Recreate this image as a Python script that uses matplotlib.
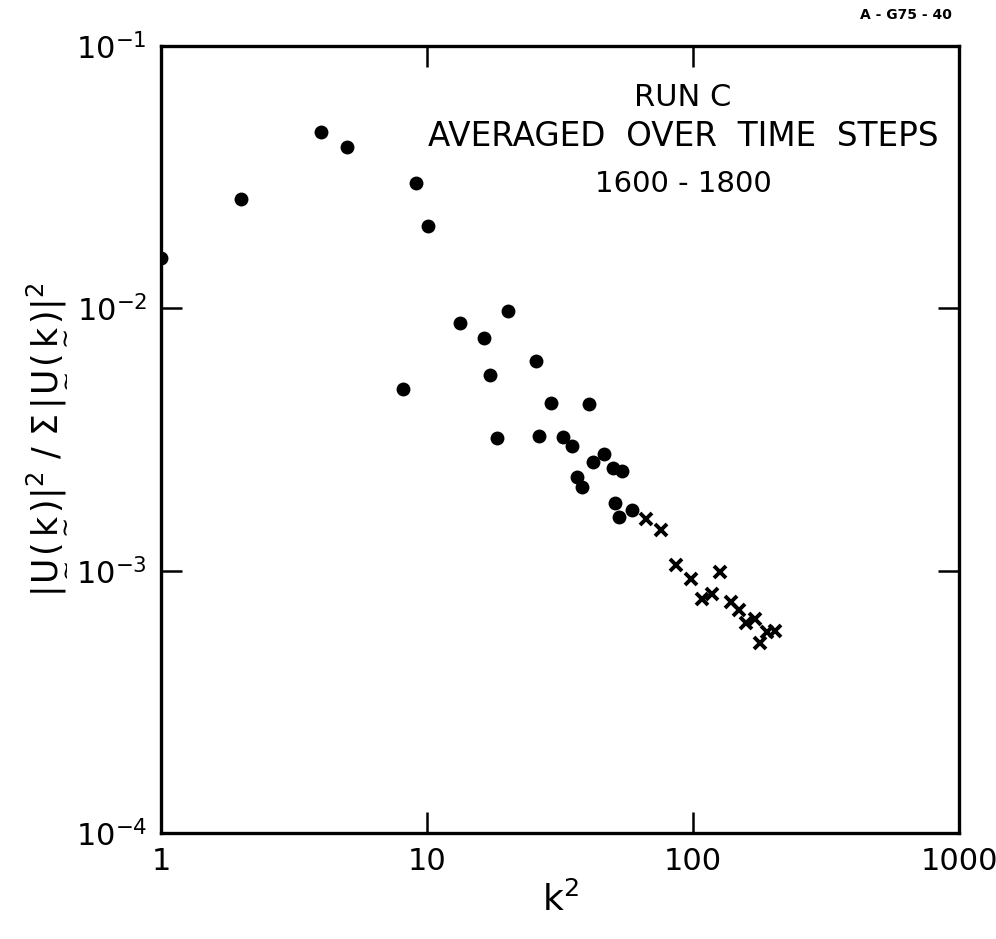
import matplotlib
matplotlib.use("Agg")
import matplotlib.pyplot as plt
from matplotlib.ticker import FixedLocator, NullLocator

# ---- data ----
k2_dots = [1.0, 2.0, 4.0, 5.0, 9.1, 10.1, 8.1, 13.3, 20.2, 16.4, 17.3, 18.4,
           25.7, 29.3, 26.4, 40.8, 32.4, 35.0, 46.4, 42.0, 50.2, 54.2, 36.6,
           38.2, 50.8, 58.9, 52.7]
val_dots = [0.0155, 0.0261, 0.0469, 0.0411, 0.0300, 0.0206, 0.00492, 0.00877,
            0.0098, 0.00773, 0.00557, 0.00321, 0.00631, 0.00436, 0.00327,
            0.0043, 0.00322, 0.00299, 0.00279, 0.00259, 0.00247, 0.00240,
            0.00227, 0.00209, 0.00181, 0.00170, 0.00160]
k2_cross = [66.3, 75.8, 86.5, 98.0, 126.4, 107.9, 118.3, 138.6, 148.9, 158.2,
            170.6, 178.6, 190.2, 203.4]
val_cross = [0.00157, 0.00143, 0.00105, 0.000926, 0.000991, 0.000783,
             0.000814, 0.000759, 0.000707, 0.000630, 0.000652, 0.000531,
             0.000585, 0.000590]

x_ticks = [1, 10, 100, 1000]
x_ticklabels = ["1", "10", "100", "1000"]
y_ticks = [1e-4, 1e-3, 1e-2, 1e-1]
y_exponents = ["-4", "-3", "-2", "-1"]

annotation_lines = ["RUN C", "AVERAGED  OVER  TIME  STEPS", "1600 - 1800"]
figure_id = "A - G75 - 40"

plt.rcParams['font.family'] = ['DejaVu Sans']
plt.rcParams['mathtext.fontset'] = 'dejavusans'

fig = plt.figure(figsize=(9.96, 9.39), dpi=100)
ax = fig.add_axes([161/996, 1 - 833/939, (959 - 161)/996, (833 - 46)/939])
ax.set_xscale('log')
ax.set_yscale('log')
ax.set_xlim(1, 1000)
ax.set_ylim(1e-4, 1e-1)

ax.plot(k2_dots, val_dots, linestyle='none', marker='o', markersize=10,
        color='black', markeredgewidth=0)
ax.plot(k2_cross, val_cross, linestyle='none', marker='x', markersize=8.5,
        color='black', markeredgewidth=2.8)

for s in ax.spines.values():
    s.set_linewidth(2.4)

ax.xaxis.set_major_locator(FixedLocator(x_ticks))
ax.yaxis.set_major_locator(FixedLocator(y_ticks))
ax.xaxis.set_minor_locator(NullLocator())
ax.yaxis.set_minor_locator(NullLocator())
ax.set_xticklabels(x_ticklabels)
ax.set_yticklabels([r"$\mathrm{10}^{\mathrm{%s}}$" % e for e in y_exponents])
ax.tick_params(which='major', direction='in', length=15, width=1.8,
               top=True, right=True, labelsize=22, pad=10)

ax.set_xlabel(r"$\mathrm{k}^{2}$", fontsize=26, labelpad=4)
U = r"\underset{\sim}{\mathrm{U}}"
K = r"\underset{\sim}{\mathrm{k}}"
ax.set_ylabel(r"$|%s(%s)|^{2}\ /\ \Sigma\,|%s(%s)|^{2}$" % (U, K, U, K),
              fontsize=25, labelpad=6)

ys = [98, 137, 184]
sizes = [22, 23.5, 21]
for line, y, fs in zip(annotation_lines, ys, sizes):
    fig.text(683/996, 1 - y/939, line, ha='center', va='center', fontsize=fs)

fig.text(952/996, 1 - 15/939, figure_id, ha='right', va='center',
         fontsize=10, fontweight='bold')

fig.savefig("out.png", dpi=100)
